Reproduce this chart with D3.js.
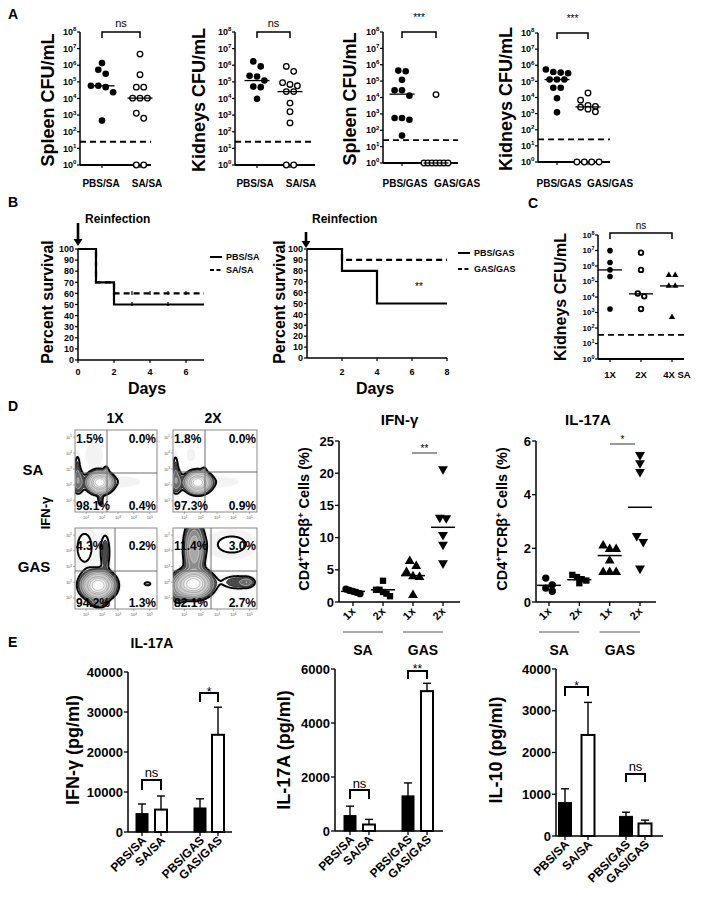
<!DOCTYPE html>
<html><head><meta charset="utf-8">
<script src="https://cdn.jsdelivr.net/npm/d3@7"></script>
<style>
body{margin:0;background:#fff}
svg{display:block}
text{font-family:"Liberation Sans",Arial,Helvetica,sans-serif}
</style>
</head><body>
<svg id="fig" width="704" height="899"></svg>
<script>
// ================= DATA =================
const cfuTicks = [1, 10, 100, 1e3, 1e4, 1e5, 1e6, 1e7, 1e8];
// Panel A
const aSA_groups = ["PBS/SA", "SA/SA"];
const aGAS_groups = ["PBS/GAS", "GAS/GAS"];
const aSpleenSA_PBS = [1.35e6, 5.4e5, 3.1e5, 5.8e4, 5.8e4, 4.8e4, 2.4e4, 4.7e2];
const aSpleenSA_SA = [4.7e6, 2.7e5, 4.8e4, 4.8e4, 1.05e4, 1.05e4, 1.05e4, 1.3e3, 6.5e2, 1, 1];
const aSpleenSA_medians = [5.8e4, 1.05e4];
const aKidneySA_PBS = [1.7e6, 8.5e5, 2.3e5, 2.1e5, 1.2e5, 5.2e4, 4.8e4, 9.5e3];
const aKidneySA_SA = [8.5e5, 4.3e5, 9e4, 7e4, 5.8e4, 2.6e4, 2.6e4, 5.3e3, 1.6e3, 3.4e2, 1, 1];
const aKidneySA_medians = [1.2e5, 2.6e4];
const aSpleenGAS_PBS = [4.4e5, 4e5, 1.2e5, 2.8e4, 2.8e4, 1.3e4, 5.6e2, 5.6e2, 4.4e2, 4.7e1];
const aSpleenGAS_GAS = [1.5e4, 1, 1, 1, 1, 1, 1, 1];
const aSpleenGAS_medians = [1.6e4, 1];
const aKidneyGAS_PBS = [5.4e5, 3.2e5, 3.5e5, 3.8e5, 1.3e5, 1.3e5, 1.3e5, 4e4, 4e4, 8.9e3, 1.2e3];
const aKidneyGAS_GAS = [1.9e4, 6.8e3, 3.2e3, 2.8e3, 2.5e3, 1.9e3, 1.3e3, 1, 1, 1, 1];
const aKidneyGAS_medians = [1.3e5, 2.6e3];
const aDetectionLimit = 25;
const aSig = ["ns", "ns", "***", "***"];

// Panel B (Kaplan-Meier)
const bSA_days = [0, 1, 2, 7];
const bSA_PBS = [100, 70, 50, 50];
const bSA_SA = [100, 70, 60, 60];
const bSA_censorDays = [3, 4, 5, 6];
const bGAS_PBS_days = [0, 2, 4, 8];
const bGAS_PBS = [100, 80, 50, 50];
const bGAS_GAS_days = [0, 2, 8];
const bGAS_GAS = [100, 90, 90];
const bSurvTicks = [0, 10, 20, 30, 40, 50, 60, 70, 80, 90, 100];
const bSA_dayTicks = [0, 2, 4, 6];
const bGAS_dayTicks = [2, 4, 6, 8];

// Panel C
const cGroups = ["1X", "2X", "4X SA"];
const c1X = [9.8e6, 1.7e6, 5.6e5, 2.1e5, 1.7e3];
const c2X = [7.2e6, 5.6e5, 1.7e4, 1.1e4, 1.7e3];
const c4X = [2.6e5, 2.6e5, 5.2e4, 5.2e4, 5e2];
const cMedians = [5.6e5, 1.6e4, 5.2e4];
const cDetectionLimit = 36;

// Panel D flow plots: quadrant percentages [UL, UR, LL, LR]
const dCols = ["1X", "2X"];
const dRows = ["SA", "GAS"];
const dQuad_SA1X = ["1.5%", "0.0%", "98.1%", "0.4%"];
const dQuad_SA2X = ["1.8%", "0.0%", "97.3%", "0.9%"];
const dQuad_GAS1X = ["4.3%", "0.2%", "94.2%", "1.3%"];
const dQuad_GAS2X = ["11.4%", "3.0%", "82.1%", "2.7%"];
// cell populations: [x(log), y(log), spreadX, spreadY, weight]
const dPop_SA1X = [[1.85,2.15,0.38,0.32,1],[0.5,2.2,0.22,0.45,0.12],[0.45,3.1,0.12,0.6,0.05],[2.25,2.75,0.09,0.22,0.12],[1.9,1.1,0.1,0.28,0.07],[3.4,2.2,0.9,0.3,0.022],[1.5,3.9,0.5,0.7,0.022]];
const dPop_SA2X = [[1.82,2.15,0.38,0.32,1],[0.5,2.2,0.22,0.45,0.12],[0.45,3.1,0.12,0.6,0.05],[2.2,2.75,0.09,0.2,0.1],[3.4,2.2,0.9,0.3,0.02],[1.4,3.9,0.4,0.6,0.015]];
const dPop_GAS1X = [[1.75,1.8,0.5,0.42,1],[2.2,3.9,0.2,0.8,0.07],[0.9,4.2,0.5,1.0,0.044],[4.85,1.9,0.22,0.12,0.042],[1.8,0.7,0.3,0.2,0.1]];
const dPop_GAS2X = [[1.55,1.9,0.55,0.42,1],[1.6,4.1,0.33,0.95,0.3],[3.9,4.4,1.0,0.6,0.044],[4.2,2.0,0.65,0.3,0.07],[4.85,2.0,0.25,0.18,0.09],[0.6,1.5,0.3,0.5,0.1]];
const flowDecades = [1, 2, 3, 4, 5];

// Panel D scatter
const dxLabels = ["1x", "2x", "1x", "2x"];
const dGroupNames = ["SA", "GAS"];
const dIFN = [[1.65,1.3,1.8,2.0,1.5],[3.3,1.9,1.9,1.3,1.55,0.9],[6.45,5.7,4.75,4.0,4.1,1.2],[20.5,13.0,12.9,10.3,8.8,5.9]];
const dIFN_med = [1.65, 1.9, 4.1, 11.6];
const dIFN_ticks = [0, 5, 10, 15, 20, 25];
const dIL17 = [[0.89,0.64,0.4,0.52],[1.01,0.85,0.93,0.7,0.8],[2.13,2.0,2.0,1.57,1.14,1.14,1.14],[5.45,5.15,4.82,2.44,2.21,1.22]];
const dIL17_med = [0.62, 0.83, 1.73, 3.53];
const dIL17_ticks = [0, 2, 4, 6];

// Panel E
const eGroups = ["PBS/SA", "SA/SA", "PBS/GAS", "GAS/GAS"];
const eIFN = [4600, 5600, 6000, 24300];
const eIFN_sem = [2400, 3400, 2300, 6900];
const eIFN_ticks = [0, 10000, 20000, 30000, 40000];
const eIL17 = [570, 240, 1300, 5180];
const eIL17_sem = [350, 190, 480, 290];
const eIL17_ticks = [0, 2000, 4000, 6000];
const eIL10 = [800, 2420, 470, 300];
const eIL10_sem = [330, 780, 100, 80];
const eIL10_ticks = [0, 1000, 2000, 3000, 4000];

// ================= DRAWING =================
const svg = d3.select("#fig");
const defs = svg.append("defs");

function T(g, x, y, str, o = {}) {
  const t = g.append("text").attr("x", x).attr("y", y)
    .attr("font-size", o.size || 10).attr("font-weight", o.weight || "bold")
    .attr("text-anchor", o.anchor || "start").attr("fill", o.fill || "#000");
  if (str != null) t.text(str);
  if (o.rotate != null) t.attr("transform", `rotate(${o.rotate},${x},${y})`);
  return t;
}
function L(g, x1, y1, x2, y2, w = 1.5, c = "#000", dash = null) {
  const l = g.append("line").attr("x1", x1).attr("y1", y1).attr("x2", x2).attr("y2", y2)
    .attr("stroke", c).attr("stroke-width", w);
  if (dash) l.attr("stroke-dasharray", dash);
  return l;
}
function bracket(g, x1, x2, yTop, leg, w = 1.5) {
  g.append("path").attr("d", `M${x1},${yTop + leg}V${yTop}H${x2}V${yTop + leg}`)
    .attr("fill", "none").attr("stroke", "#000").attr("stroke-width", w);
}
// spread points of equal-ish height horizontally (scatter dot plot layout)
function spread(vals, yfn, cx, minDy, step, maxW) {
  const idx = vals.map((v, i) => ({ v, i, y: yfn(v) })).sort((a, b) => a.y - b.y);
  const out = new Array(vals.length);
  let row = [];
  const flush = () => {
    const k = row.length, s = k > 1 ? Math.min(step, maxW / (k - 1)) : 0;
    row.forEach((p, j) => { out[p.i] = { x: cx + (j - (k - 1) / 2) * s, y: p.y }; });
    row = [];
  };
  idx.forEach(p => { if (row.length && p.y - row[0].y >= minDy) flush(); row.push(p); });
  flush();
  return out;
}
function logLabel(g, x, y, k, fs, sfs) {
  const t = T(g, x, y, null, { size: fs, anchor: "end" });
  t.append("tspan").text("10");
  t.append("tspan").attr("dy", -fs * 0.42).attr("font-size", sfs).text(k);
}

// ---------- Panel letters ----------
T(svg, 8, 19, "A", { size: 14 });
T(svg, 8, 207, "B", { size: 14 });
T(svg, 528, 208, "C", { size: 14 });
T(svg, 8, 411, "D", { size: 14 });
T(svg, 8, 647, "E", { size: 14 });

// ---------- Panel A & C: CFU dot plots ----------
function cfuPanel(o) {
  const g = svg.append("g");
  const y = d3.scaleLog().domain([1, 1e8]).range([o.yBot, o.yTop]);
  const x = d3.scalePoint().domain(o.groups).range(o.cx);
  L(g, o.ax, o.yBot, o.ax, o.yTop, 1.5);
  L(g, o.ax, o.yBot, o.xEnd, o.yBot, 1.8);
  cfuTicks.forEach((v, k) => {
    L(g, o.ax - 3, y(v), o.ax, y(v), 1.2);
    logLabel(g, o.ax - 3.5, y(v) + o.fs * 0.36, k, o.fs, o.fs * 0.68);
  });
  o.groups.forEach((gn, i) => {
    L(g, x(gn), o.yBot, x(gn), o.yBot + 3, 1.2);
    T(g, o.lx[i], o.labY, gn, { size: o.labFs, anchor: "middle" });
  });
  L(g, o.ax, y(o.limit), o.xEnd, y(o.limit), 1.8, "#000", "6,4");
  o.series.forEach((vals, i) => {
    const pos = spread(vals, y, x(o.groups[i]), o.r * 2, o.r * 2 + 0.8, o.maxW);
    const kind = o.kinds[i];
    pos.forEach(p => {
      if (kind === "tri") {
        g.append("path").attr("d", d3.symbol(d3.symbolTriangle, o.triSize)())
          .attr("transform", `translate(${p.x},${p.y})`).attr("fill", "#000");
      } else {
        g.append("circle").attr("cx", p.x).attr("cy", p.y).attr("r", kind === "open" ? o.r - 0.5 : o.r)
          .attr("fill", kind === "open" ? "#fff" : "#000").attr("stroke", "#000")
          .attr("stroke-width", kind === "open" ? o.openW : 0);
      }
    });
    L(g, x(o.groups[i]) - o.medW / 2, y(o.medians[i]), x(o.groups[i]) + o.medW / 2, y(o.medians[i]), 1.3);
  });
  const bx1 = x(o.groups[0]), bx2 = x(o.groups[o.groups.length - 1]);
  bracket(g, bx1, bx2, o.brY, o.brLeg, 1.5);
  T(g, (bx1 + bx2) / 2, o.sigY, o.sig, { size: o.sigFs, anchor: "middle", weight: "normal" });
  T(g, o.ylx, o.yly, o.ylabel, { size: o.ylFs, anchor: "middle", rotate: -90 });
}

const aCommon = { fs: 9, labFs: 10, labY: 187, r: 3.3, openW: 1.3, medW: 25, maxW: 24, sigFs: 11, ylFs: 18, brLeg: 6 };
cfuPanel({ ...aCommon, ax: 80, xEnd: 151, yTop: 32, yBot: 165, groups: aSA_groups, cx: [102, 140], lx: [101, 147],
  series: [aSpleenSA_PBS, aSpleenSA_SA], medians: aSpleenSA_medians, kinds: ["fill", "open"], limit: aDetectionLimit,
  brY: 32, sig: aSig[0], sigY: 27, ylabel: "Spleen CFU/mL", ylx: 54, yly: 100 });
cfuPanel({ ...aCommon, ax: 235, xEnd: 315, yTop: 32, yBot: 165, groups: aSA_groups, cx: [257, 290], lx: [255, 301],
  series: [aKidneySA_PBS, aKidneySA_SA], medians: aKidneySA_medians, kinds: ["fill", "open"], limit: aDetectionLimit,
  brY: 32, sig: aSig[1], sigY: 27, ylabel: "Kidneys CFU/mL", ylx: 205, yly: 100 });
cfuPanel({ ...aCommon, ax: 383, xEnd: 458, yTop: 32, yBot: 163, groups: aGAS_groups, cx: [402, 436], lx: [405, 457],
  series: [aSpleenGAS_PBS, aSpleenGAS_GAS], medians: aSpleenGAS_medians, kinds: ["fill", "open"], limit: aDetectionLimit,
  brY: 32, sig: aSig[2], sigY: 21, sigFs: 10, ylabel: "Spleen CFU/mL", ylx: 356, yly: 99 });
cfuPanel({ ...aCommon, ax: 538, xEnd: 610, yTop: 33, yBot: 162, groups: aGAS_groups, cx: [557, 588], lx: [559, 610],
  series: [aKidneyGAS_PBS, aKidneyGAS_GAS], medians: aKidneyGAS_medians, kinds: ["fill", "open"], limit: aDetectionLimit,
  brY: 33, sig: aSig[3], sigY: 22, sigFs: 10, ylabel: "Kidneys CFU/mL", ylx: 512, yly: 99 });

// Panel C
cfuPanel({ fs: 8, labFs: 9.5, labY: 378, r: 2.8, openW: 1.8, medW: 24, maxW: 20, sigFs: 10, ylFs: 16, brLeg: 6, triSize: 17,
  ax: 598, xEnd: 684, yTop: 235, yBot: 359, groups: cGroups, cx: [610, 672], lx: [610, 641, 677],
  series: [c1X, c2X, c4X], medians: cMedians, kinds: ["fill", "open", "tri"], limit: cDetectionLimit,
  brY: 233, sig: "ns", sigY: 229, ylabel: "Kidneys CFU/mL", ylx: 566, yly: 297 });

// ---------- Panel B: survival ----------
function survPanel(o) {
  const g = svg.append("g");
  const x = d3.scaleLinear().domain(o.xDom).range([o.ax, o.xEnd]);
  const y = d3.scaleLinear().domain([0, 100]).range([o.yBot, o.yTop]);
  L(g, o.ax, o.yBot, o.ax, o.yTop, 1.5);
  L(g, o.ax, o.yBot, o.xEnd, o.yBot, 1.5);
  bSurvTicks.forEach(v => {
    L(g, o.ax - 3, y(v), o.ax, y(v), 1.2);
    T(g, o.ax - 4, y(v) + 3.2, v, { size: 9, anchor: "end" });
  });
  o.xTicks.forEach(v => {
    L(g, x(v), o.yBot, x(v), o.yBot + 3, 1.2);
    T(g, x(v), 375, v, { size: 9, anchor: "middle" });
  });
  const line = d3.line().x(d => x(d[0])).y(d => y(d[1])).curve(d3.curveStepAfter);
  o.series.forEach(s => {
    g.append("path").attr("d", line(s.days.map((d, i) => [d, s.vals[i]])))
      .attr("fill", "none").attr("stroke", "#000").attr("stroke-width", 2.2)
      .attr("stroke-dasharray", s.dash ? "6,4" : null);
    (s.censor || []).forEach(d => {
      const v = s.vals[d3.bisectRight(s.days, d) - 1];
      L(g, x(d), y(v) - 2.5, x(d), y(v) + 1.5, 1.2);
    });
    L(g, o.legX, s.legY, o.legX + 12, s.legY, 2, "#000", s.dash ? "4,2.5" : null);
    T(g, o.legX + 16, s.legY + 3, s.name, { size: 9 });
  });
  L(g, o.arrX, o.arrY1, o.arrX, o.arrY2 - 6, 2.6);
  g.append("path").attr("d", `M${o.arrX - 4.5},${o.arrY2 - 7}L${o.arrX + 4.5},${o.arrY2 - 7}L${o.arrX},${o.arrY2}Z`).attr("fill", "#000");
  T(g, o.reX, 223, "Reinfection", { size: 12 });
  T(g, o.daysX, 394, "Days", { size: 16, anchor: "middle" });
  T(g, o.ylx, 302, "Percent survival", { size: 16, anchor: "middle", rotate: -90 });
  if (o.sig) T(g, o.sigX, o.sigY, o.sig, { size: 10, anchor: "middle", weight: "normal" });
}
survPanel({ ax: 78, xEnd: 204, yTop: 249, yBot: 360, xDom: [0, 7], xTicks: bSA_dayTicks,
  series: [
    { name: "SA/SA", days: bSA_days, vals: bSA_SA, dash: true, legY: 270, censor: bSA_censorDays },
    { name: "PBS/SA", days: bSA_days, vals: bSA_PBS, dash: false, legY: 257, censor: [3, 5] }],
  legX: 210, arrX: 78, arrY1: 223, arrY2: 246, reX: 85, daysX: 147, ylx: 53 });
survPanel({ ax: 307, xEnd: 447, yTop: 249, yBot: 358, xDom: [0, 8], xTicks: bGAS_dayTicks,
  series: [
    { name: "GAS/GAS", days: bGAS_GAS_days, vals: bGAS_GAS, dash: true, legY: 269 },
    { name: "PBS/GAS", days: bGAS_PBS_days, vals: bGAS_PBS, dash: false, legY: 253 }],
  legX: 458, arrX: 306, arrY1: 232, arrY2: 248, reX: 312, daysX: 375, ylx: 285, sig: "**", sigX: 419, sigY: 290 });

// ---------- Panel D: flow plots ----------
const flowDom = [0.3, 5.45];
const flowLevels = [0.012, 0.03, 0.045, 0.08, 0.13, 0.2, 0.3, 0.43, 0.58, 0.76];
const flowFills = ["#f3f3f3", "#ffffff", "#4a4a4a", "#6e6e6e", "#8c8c8c", "#a8a8a8", "#c2c2c2", "#d9d9d9", "#ececec", "#fbfbfb"];
const flowStrokes = ["none", "#000", "#111", "#eee", "#eee", "#eee", "#f2f2f2", "#888", "#888", "#888"];
const flowStrokeW = [0, 2, 0.8, 0.5, 0.5, 0.5, 0.5, 0.5, 0.5, 0.5];
let clipN = 0;
function flowPlot(o) {
  const g = svg.append("g");
  const id = "fclip" + (clipN++);
  defs.append("clipPath").attr("id", id).append("rect").attr("x", o.x).attr("y", o.y).attr("width", o.w).attr("height", o.h);
  const N = 110, lo = flowDom[0], hi = flowDom[1];
  const vals = new Float64Array(N * N);
  for (let j = 0; j < N; j++) for (let i = 0; i < N; i++) {
    const xv = lo + (i + 0.5) / N * (hi - lo), yv = hi - (j + 0.5) / N * (hi - lo);
    let s = 0;
    for (const b of o.pops) { const dx = (xv - b[0]) / b[2], dy = (yv - b[1]) / b[3]; s += b[4] * Math.exp(-0.5 * (dx * dx + dy * dy)); }
    vals[j * N + i] = s;
  }
  const mx = d3.max(vals);
  const cs = d3.contours().size([N, N]).thresholds(flowLevels.map(t => t * mx))(vals);
  const proj = d3.geoTransform({ point(px, py) { this.stream.point(o.x + px / N * o.w, o.y + py / N * o.h); } });
  const path = d3.geoPath(proj);
  const cg = g.append("g").attr("clip-path", `url(#${id})`);
  cs.forEach((c, i) => {
    cg.append("path").attr("d", path(c)).attr("fill", flowFills[i]).attr("stroke", flowStrokes[i])
      .attr("stroke-width", flowStrokeW[i]).attr("stroke-linejoin", "round");
  });
  g.append("rect").attr("x", o.x).attr("y", o.y).attr("width", o.w).attr("height", o.h)
    .attr("fill", "none").attr("stroke", "#8a8a8a").attr("stroke-width", 1);
  L(g, o.gx, o.y, o.gx, o.y + o.h, 1, "#6d6d6d");
  L(g, o.x, o.gy, o.x + o.w, o.gy, 1, "#6d6d6d");
  const sx = d3.scaleLinear().domain(flowDom).range([o.x, o.x + o.w]);
  const sy = d3.scaleLinear().domain(flowDom).range([o.y + o.h, o.y]);
  flowDecades.forEach(k => {
    L(g, o.x - 2, sy(k), o.x, sy(k), 0.6, "#777");
    const t1 = T(g, o.x - 3, sy(k) + 1.5, null, { size: 4, anchor: "end", fill: "#555", weight: "normal" });
    t1.append("tspan").text("10"); t1.append("tspan").attr("dy", -1.5).attr("font-size", 3).text(k);
    L(g, sx(k), o.y + o.h, sx(k), o.y + o.h + 2, 0.6, "#777");
    const t2 = T(g, sx(k), o.y + o.h + 7, null, { size: 4, anchor: "middle", fill: "#555", weight: "normal" });
    t2.append("tspan").text("10"); t2.append("tspan").attr("dy", -1.5).attr("font-size", 3).text(k);
  });
  const q = o.quad;
  T(g, o.x + 1, o.y + o.upY, q[0], { size: 12 });
  T(g, o.x + o.w - 1, o.y + o.upY, q[1], { size: 12, anchor: "end" });
  T(g, o.x + 1, o.y + o.h - 2, q[2], { size: 12 });
  T(g, o.x + o.w - 1, o.y + o.h - 2, q[3], { size: 12, anchor: "end" });
}
flowPlot({ x: 75, y: 430, w: 82, h: 82, gx: 107, gy: 473, pops: dPop_SA1X, quad: dQuad_SA1X, upY: 13 });
flowPlot({ x: 173, y: 430, w: 84, h: 82, gx: 205, gy: 472, pops: dPop_SA2X, quad: dQuad_SA2X, upY: 13 });
flowPlot({ x: 75, y: 528, w: 82, h: 81, gx: 115, gy: 571, pops: dPop_GAS1X, quad: dQuad_GAS1X, upY: 22 });
flowPlot({ x: 173, y: 528, w: 84, h: 81, gx: 211, gy: 571, pops: dPop_GAS2X, quad: dQuad_GAS2X, upY: 22 });
T(svg, 115, 423, dCols[0], { size: 14, anchor: "middle" });
T(svg, 213, 423, dCols[1], { size: 14, anchor: "middle" });
T(svg, 33, 475, dRows[0], { size: 15, anchor: "middle" });
T(svg, 34, 572, dRows[1], { size: 15, anchor: "middle" });
T(svg, 50, 513, "IFN-γ", { size: 13, anchor: "middle", rotate: -90 });

// ---------- Panel D: scatter ----------
const dSymbols = [d3.symbolCircle, d3.symbolSquare, d3.symbolTriangle, d3.symbolTriangle];
function dScatter(o) {
  const g = svg.append("g");
  const y = d3.scaleLinear().domain([0, o.ticks[o.ticks.length - 1]]).range([o.yBot, o.yTop]);
  const x = d3.scalePoint().domain(d3.range(4)).range(o.cx);
  L(g, o.ax, o.yBot, o.ax, o.yTop, 1.5);
  L(g, o.ax, o.yBot, o.xEnd, o.yBot, 1.5);
  o.ticks.forEach(v => {
    L(g, o.ax - 4, y(v), o.ax, y(v), 1.3);
    T(g, o.ax - 5, y(v) + 4.5, v, { size: 13, anchor: "end" });
  });
  dxLabels.forEach((lab, i) => {
    L(g, x(i), o.yBot, x(i), o.yBot + 4, 1.3);
    T(g, x(i) + 3, o.yBot + 10, lab, { size: 11, anchor: "end", rotate: -45 });
  });
  o.data.forEach((vals, i) => {
    const pos = spread(vals, y, x(i), 7, 6.5, 14);
    pos.forEach(p => {
      g.append("path").attr("d", d3.symbol(dSymbols[i], i === 1 ? 40 : 42)())
        .attr("transform", `translate(${p.x},${p.y + (i === 3 ? -0.8 : (i === 2 ? 0.8 : 0))})${i === 3 ? " rotate(180)" : ""}`)
        .attr("fill", "#000");
    });
    L(g, x(i) - 12, y(o.med[i]), x(i) + 12, y(o.med[i]), 1.5);
  });
  [[0, 1], [2, 3]].forEach((pr, k) => {
    L(g, x(pr[0]) - 10, 632, x(pr[1]), 632, 1, "#555");
    T(g, (x(pr[0]) - 10 + x(pr[1])) / 2, 655, dGroupNames[k], { size: 14, anchor: "middle" });
  });
  L(g, o.sigX1, o.sigYb, o.sigX2, o.sigYb, 1.2, "#555");
  T(g, (o.sigX1 + o.sigX2) / 2, o.sigYb - 1, o.sig, { size: 10, anchor: "middle", weight: "normal" });
  T(g, (o.ax + o.xEnd) / 2 + o.titleDx, 425, o.title, { size: 15, anchor: "middle" });
  const yl = T(g, o.ylx, 519, null, { size: 14.5, anchor: "middle", rotate: -90 });
  yl.append("tspan").text("CD4");
  yl.append("tspan").attr("dy", -5).attr("font-size", 9).text("+");
  yl.append("tspan").attr("dy", 5).text("TCRβ");
  yl.append("tspan").attr("dy", -5).attr("font-size", 9).text("+");
  yl.append("tspan").attr("dy", 5).text(" Cells (%)");
}
dScatter({ ax: 339, xEnd: 460, yTop: 441, yBot: 602, cx: [353, 443], ticks: dIFN_ticks, data: dIFN, med: dIFN_med,
  sig: "**", sigX1: 412, sigX2: 437, sigYb: 453, title: "IFN-γ", titleDx: 0, ylx: 309 });
dScatter({ ax: 536, xEnd: 656, yTop: 441, yBot: 602, cx: [549, 640], ticks: dIL17_ticks, data: dIL17, med: dIL17_med,
  sig: "*", sigX1: 610, sigX2: 635, sigYb: 444, title: "IL-17A", titleDx: -8, ylx: 507 });

// ---------- Panel E: bars ----------
function eBars(o) {
  const g = svg.append("g");
  const y = d3.scaleLinear().domain([0, o.ticks[o.ticks.length - 1]]).range([o.yBot, o.yTop]);
  const xp = gname => o.cx[eGroups.indexOf(gname)];
  L(g, o.ax, o.yBot, o.ax, o.yTop, 1.5);
  L(g, o.ax, o.yBot, o.xEnd, o.yBot, 1.5);
  o.ticks.forEach(v => {
    L(g, o.ax - 4, y(v), o.ax, y(v), 1.3);
    T(g, o.ax - 5, y(v) + 4.5, v, { size: 13, anchor: "end" });
  });
  eGroups.forEach((gn, i) => {
    const cx = xp(gn), open = i % 2 === 1;
    const top = y(o.mean[i] + o.sem[i]);
    L(g, cx, y(o.mean[i]), cx, top, 1.4);
    L(g, cx - 4, top, cx + 4, top, 1.4);
    g.append("rect").attr("x", cx - o.bw / 2).attr("y", y(o.mean[i])).attr("width", o.bw)
      .attr("height", o.yBot - y(o.mean[i])).attr("fill", open ? "#fff" : "#000")
      .attr("stroke", "#000").attr("stroke-width", open ? 2 : 1);
    L(g, cx, o.yBot, cx, o.yBot + 4, 1.3);
    T(g, cx + 5, o.yBot + 9, gn, { size: 12, anchor: "end", rotate: -45 });
  });
  o.brackets.forEach(b => {
    bracket(g, xp(eGroups[b.i]), xp(eGroups[b.j]), b.y, b.leg, 2);
    T(g, (xp(eGroups[b.i]) + xp(eGroups[b.j])) / 2, b.ty, b.s, { size: b.s === "ns" ? 13 : 12, anchor: "middle", weight: "normal" });
  });
  T(g, o.ylx, 750, o.ylabel, { size: 18, anchor: "middle", rotate: -90 });
}
eBars({ ax: 128, xEnd: 232, yTop: 672, yBot: 832, cx: [142, 161, 200, 218], bw: 12, ticks: eIFN_ticks, mean: eIFN, sem: eIFN_sem,
  brackets: [{ i: 0, j: 1, y: 780, leg: 10, s: "ns", ty: 777 }, { i: 2, j: 3, y: 693, leg: 9, s: "*", ty: 696 }],
  ylabel: "IFN-γ (pg/ml)", ylx: 79 });
eBars({ ax: 335, xEnd: 443, yTop: 669, yBot: 831, cx: [350, 369, 408, 427], bw: 12, ticks: eIL17_ticks, mean: eIL17, sem: eIL17_sem,
  brackets: [{ i: 0, j: 1, y: 790, leg: 9, s: "ns", ty: 788 }, { i: 2, j: 3, y: 671, leg: 8, s: "**", ty: 673 }],
  ylabel: "IL-17A (pg/ml)", ylx: 290 });
eBars({ ax: 556, xEnd: 663, yTop: 669, yBot: 836, cx: [565, 588, 626, 645], bw: 13, ticks: eIL10_ticks, mean: eIL10, sem: eIL10_sem,
  brackets: [{ i: 0, j: 1, y: 687, leg: 9, s: "*", ty: 690 }, { i: 2, j: 3, y: 774, leg: 8, s: "ns", ty: 771 }],
  ylabel: "IL-10 (pg/ml)", ylx: 502 });
T(svg, 152, 648, "IL-17A", { size: 14, anchor: "middle" });
</script>
</body></html>
